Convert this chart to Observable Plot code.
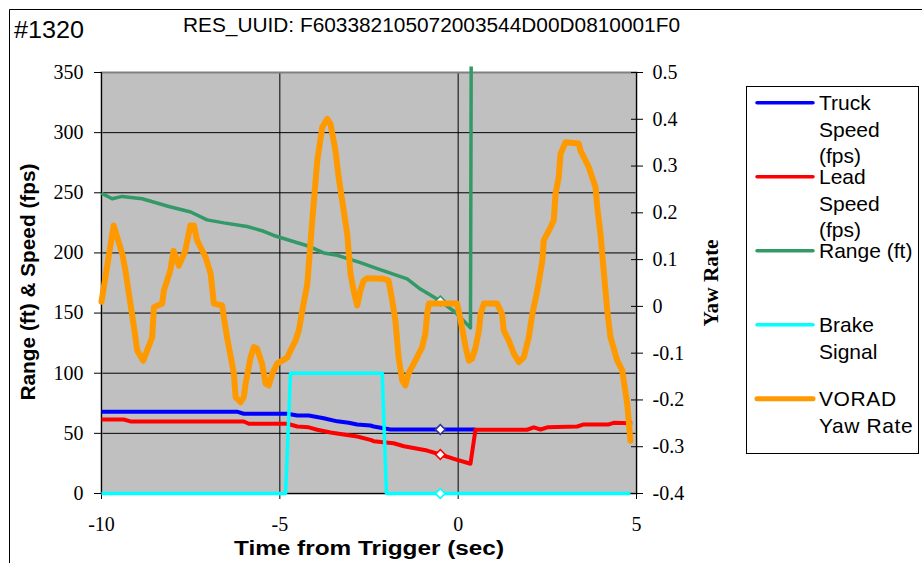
<!DOCTYPE html>
<html><head><meta charset="utf-8">
<script src="https://cdn.jsdelivr.net/npm/d3@7"></script>
<script src="https://cdn.jsdelivr.net/npm/@observablehq/plot@0.6"></script>
<style>
html,body{margin:0;padding:0;background:#fff;overflow:hidden;}
#chart{position:relative;width:922px;height:563px;}
</style></head><body><div id="chart"></div>
<script>
// ---- data ----
const recordId = "#1320";
const titleText = "RES_UUID: F603382105072003544D00D0810001F0";
const xLabel = "Time from Trigger (sec)";
const yLeftLabel = "Range (ft) & Speed (fps)";
const yRightLabel = "Yaw Rate";
const xDomain = [-10, 5];
const xTicks = [-10, -5, 0, 5];
const leftDomain = [0, 350];
const leftTicks = [0, 50, 100, 150, 200, 250, 300, 350];
const yawDomain = [-0.4, 0.5];
const yawTicks = [-0.4, -0.3, -0.2, -0.1, 0, 0.1, 0.2, 0.3, 0.4, 0.5];
const seriesNames = ["Truck Speed (fps)", "Lead Speed (fps)", "Range (ft)", "Brake Signal", "VORAD Yaw Rate"];
const legendLines = [["Truck","Speed","(fps)"],["Lead","Speed","(fps)"],["Range (ft)"],["Brake","Signal"],["VORAD","Yaw Rate"]];
const seriesColors = ["#0000FF", "#FF0000", "#339966", "#00FFFF", "#FF9900"];
const markerStroke = ["#333399", "#FF0000", "#339966", "#00FFFF"];
const triggerMarkT = -0.5;

const truckSpeed = [[-10,68],[-6.2,68],[-6.01,66.3],[-4.79,66.3],[-4.51,64.8],[-4.19,64.8],[-3.77,62.6],[-3.39,60],[-3.07,58.8],[-2.83,57.4],[-2.46,56.5],[-2.37,55.7],[-1.90,53.2],[0.485,53.2]];
const leadSpeed = [[-10,61.5],[-9.375,61.5],[-9.19,59.9],[-6.01,59.9],[-5.87,58],[-4.79,58],[-4.51,55.7],[-4.19,55],[-3.95,53],[-3.58,50.7],[-3.21,49],[-2.83,47.4],[-2.46,44.6],[-2.37,43.5],[-1.81,41.8],[-1.52,39.3],[-0.87,35.7],[-0.5,32.4],[-0.12,28.8],[0.345,24.7],[0.485,53],[1.93,53],[2.12,55],[2.31,53.2],[2.50,55],[3.34,55.7],[3.52,57.4],[4.22,57.4],[4.36,58.8],[4.88,58.4]];
const rangeFt = [[-10,249.6],[-9.70,245],[-9.42,247],[-8.86,245],[-8.11,238.6],[-7.50,234],[-7.04,227.5],[-6.57,225],[-5.92,222],[-5.45,218],[-5.17,214.5],[-4.23,206],[-3.77,200],[-3.39,198],[-2.74,192],[-2.27,187],[-1.43,178.5],[-1.06,170],[-0.50,160],[-0.08,150.7],[0.345,137.7],[0.365,355]];
const brakeSignal = [[-10,0],[-4.84,0],[-4.70,100],[-2.13,100],[-2.01,0],[4.83,0]];
const yawRate = [[-10,0.01],[-9.66,0.173],[-9.42,0.113],[-9.33,0.077],[-9.19,0.006],[-9.09,-0.044],[-9.0,-0.094],[-8.83,-0.116],[-8.58,-0.066],[-8.53,-0.002],[-8.30,0.006],[-8.25,0.034],[-8.07,0.077],[-7.98,0.119],[-7.83,0.087],[-7.65,0.119],[-7.51,0.173],[-7.41,0.173],[-7.32,0.141],[-7.08,0.105],[-6.94,0.070],[-6.85,0.006],[-6.62,0.002],[-6.57,-0.023],[-6.48,-0.066],[-6.29,-0.143],[-6.24,-0.194],[-6.10,-0.205],[-6.01,-0.194],[-5.96,-0.165],[-5.82,-0.109],[-5.73,-0.087],[-5.64,-0.090],[-5.50,-0.122],[-5.40,-0.165],[-5.31,-0.169],[-5.21,-0.143],[-5.07,-0.122],[-4.93,-0.116],[-4.79,-0.109],[-4.70,-0.094],[-4.56,-0.073],[-4.47,-0.052],[-4.37,-0.009],[-4.23,0.048],[-4.09,0.184],[-3.95,0.312],[-3.81,0.383],[-3.67,0.401],[-3.58,0.390],[-3.44,0.333],[-3.35,0.276],[-3.21,0.205],[-3.11,0.155],[-3.02,0.070],[-2.93,0.034],[-2.83,0.002],[-2.74,0.034],[-2.65,0.055],[-2.55,0.060],[-2.09,0.059],[-1.95,0.055],[-1.85,0.013],[-1.76,-0.030],[-1.67,-0.109],[-1.57,-0.158],[-1.48,-0.169],[-1.39,-0.143],[-1.20,-0.116],[-1.01,-0.087],[-0.92,-0.059],[-0.87,-0.016],[-0.82,0.006],[-0.03,0.006],[0.07,-0.030],[0.21,-0.087],[0.30,-0.116],[0.39,-0.112],[0.49,-0.087],[0.58,-0.052],[0.63,-0.016],[0.72,0.006],[1.09,0.006],[1.23,-0.016],[1.28,-0.052],[1.42,-0.073],[1.56,-0.101],[1.70,-0.119],[1.84,-0.109],[1.98,-0.066],[2.08,-0.016],[2.22,0.034],[2.36,0.098],[2.40,0.141],[2.59,0.169],[2.68,0.184],[2.73,0.241],[2.82,0.276],[2.87,0.326],[3.01,0.351],[3.38,0.348],[3.43,0.333],[3.66,0.298],[3.85,0.255],[3.90,0.212],[3.99,0.155],[4.08,0.077],[4.18,-0.009],[4.27,-0.066],[4.46,-0.116],[4.60,-0.137],[4.74,-0.208],[4.83,-0.287]];
const markerValues = [53.2, 32.4, 160, 0];

// ---- helpers ----
const toLeft = v => (v - yawDomain[0]) / (yawDomain[1] - yawDomain[0]) * (leftDomain[1] - leftDomain[0]) + leftDomain[0];
const fromLeft = d => Math.round(((d - leftDomain[0]) / (leftDomain[1] - leftDomain[0]) * (yawDomain[1] - yawDomain[0]) + yawDomain[0]) * 10) / 10;
const fmtYaw = d => { const v = fromLeft(d); return v === 0 ? "0" : String(v); };
const SANS = "'Liberation Sans', Arial, sans-serif";
const SERIF = "'Liberation Serif', 'Times New Roman', serif";

const W = 922, H = 563;
const mL = 101, mR = W - 636, mT = 72, mB = H - 493;

const lineMark = (data, color, w) => Plot.line(data, {x: d => d[0], y: d => d[1], stroke: color, strokeWidth: w, strokeLinejoin: "round", strokeLinecap: "butt"});
const markerMark = (i) => Plot.dot([[triggerMarkT, markerValues[i]]], {x: d => d[0], y: d => d[1], symbol: "square", r: 3.9, rotate: 45, fill: "#fff", stroke: markerStroke[i], strokeWidth: 1.6});

const chart = Plot.plot({
  width: W, height: H,
  marginLeft: mL, marginRight: mR, marginTop: mT, marginBottom: mB,
  x: {domain: xDomain},
  y: {domain: leftDomain},
  style: {fontFamily: SERIF, fontSize: "20px", color: "#000", background: "#fff", overflow: "visible"},
  marks: [
    Plot.frame({fill: "#c0c0c0", stroke: null}),
    Plot.gridY({ticks: leftTicks.filter(t => t > 0 && t < 350), stroke: "#000", strokeOpacity: 1, strokeWidth: 1}),
    Plot.gridX({ticks: xTicks.filter(t => t > xDomain[0] && t < xDomain[1]), stroke: "#000", strokeOpacity: 1, strokeWidth: 1}),
    Plot.frame({stroke: "#808080", strokeWidth: 2}),
    Plot.ruleX([xDomain[0], xDomain[1]], {stroke: "#000", strokeWidth: 1}),
    Plot.ruleY([leftDomain[0]], {stroke: "#000", strokeWidth: 1}),
    Plot.axisY({anchor: "left", ticks: leftTicks, tickSize: 7, tickPadding: 11, tickFormat: d => String(d), stroke: "#000"}),
    Plot.axisX({anchor: "bottom", ticks: xTicks, tickSize: 6, tickPadding: 17, tickFormat: d => String(d), stroke: "#000"}),
    Plot.axisY({anchor: "right", ticks: yawTicks.map(toLeft), tickSize: 12, dx: -6, tickPadding: 10, tickFormat: fmtYaw, stroke: "#000"}),
    lineMark(truckSpeed, seriesColors[0], 4),
    markerMark(0),
    lineMark(leadSpeed, seriesColors[1], 4),
    markerMark(1),
    lineMark(rangeFt, seriesColors[2], 3.5),
    markerMark(2),
    lineMark(brakeSignal, seriesColors[3], 3.5),
    markerMark(3),
    Plot.line(yawRate, {x: d => d[0], y: d => toLeft(d[1]), stroke: seriesColors[4], strokeWidth: 6, strokeLinejoin: "round", strokeLinecap: "round"})
  ]
});

document.getElementById("chart").appendChild(chart);

// ---- decorations (outer frame, titles, legend) ----
const svg = d3.select(chart);
const deco = svg.append("g").attr("text-anchor", "start");
deco.append("path").attr("d", `M9.5,${H} V9.5 H${W}`).attr("fill", "none").attr("stroke", "#000").attr("stroke-width", 1);

function addText(str, x, y, opts) {
  const t = deco.append("text").attr("x", x).attr("y", y).text(str)
    .attr("font-family", opts.family || SANS).attr("font-size", opts.size)
    .attr("font-weight", opts.weight || "normal").attr("fill", "#000")
    .attr("text-anchor", opts.anchor || "start");
  if (opts.len) t.attr("textLength", opts.len).attr("lengthAdjust", "spacingAndGlyphs");
  if (opts.rotate) t.attr("transform", `rotate(${opts.rotate},${x},${y})`);
  return t;
}
addText(recordId, 14, 38, {size: 24, len: 70});
addText(titleText, 183, 32, {size: 20, len: 497});
addText(xLabel, 369, 555, {size: 20, weight: "bold", anchor: "middle", len: 270});
addText(yLeftLabel, 35, 282, {size: 20, weight: "bold", anchor: "middle", len: 237, rotate: -90});
addText(yRightLabel, 718, 283, {size: 20, weight: "bold", anchor: "middle", len: 87, rotate: -90, family: SERIF});

// legend
const lg = deco.append("g");
lg.append("rect").attr("x", 746.5).attr("y", 86.5).attr("width", 172).attr("height", 367)
  .attr("fill", "#fff").attr("stroke", "#000").attr("stroke-width", 1);
legendLines.forEach((lines, i) => {
  const cy = 102.7 + i * 74;
  lg.append("line").attr("x1", 757).attr("x2", 813).attr("y1", cy).attr("y2", cy)
    .attr("stroke", seriesColors[i]).attr("stroke-width", i === 4 ? 5 : 3.5).attr("stroke-linecap", "round");
  lines.forEach((s, j) => {
    lg.append("text").attr("x", 819).attr("y", cy + 7.4 + j * 26.5).text(s)
      .attr("font-family", SANS).attr("font-size", 21).attr("fill", "#000").attr("text-anchor", "start")
      .attr("letter-spacing", i === 4 ? "0.6px" : "0px");
  });
});
</script></body></html>
